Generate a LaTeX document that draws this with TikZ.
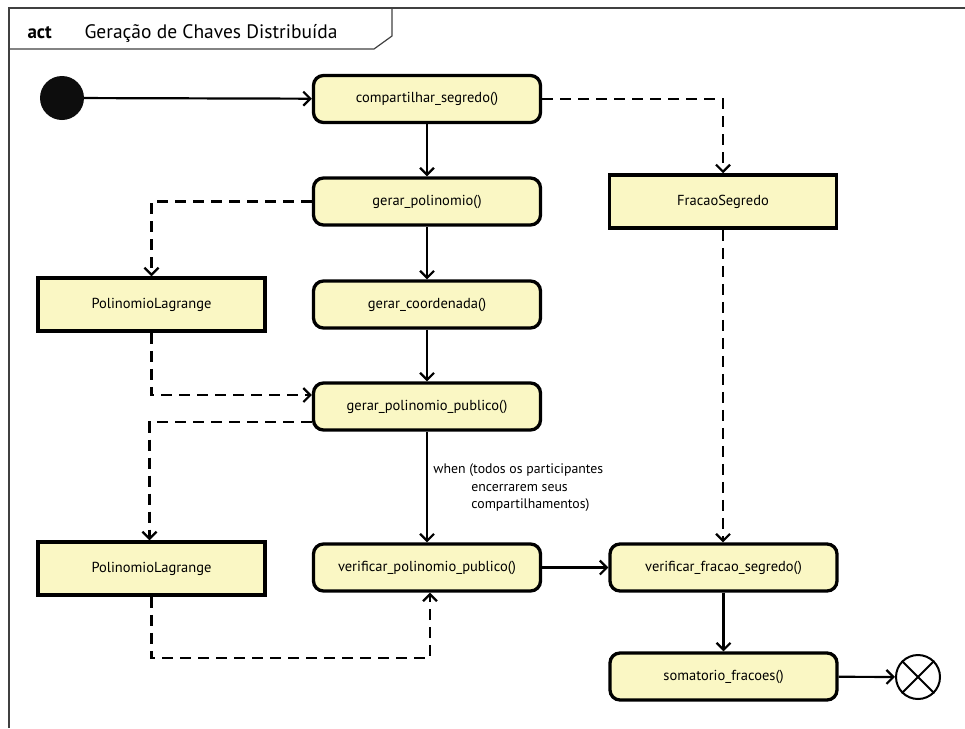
\documentclass[tikz,border=0pt]{standalone}
\usepackage{fontspec}
\setmainfont{PT Sans}
\usetikzlibrary{arrows.meta,positioning}
\definecolor{actfill}{RGB}{250,247,196}
\tikzset{
  action/.style={draw=black, line width=3.3pt, fill=actfill, rounded corners=10pt,
    minimum width=227pt, minimum height=47pt, inner sep=0pt,
    font=\fontsize{14.5}{17}\selectfont},
  objnode/.style={draw=black, line width=3.5pt, fill=actfill,
    minimum width=227pt, minimum height=53pt, inner sep=0pt,
    font=\fontsize{14.5}{17}\selectfont},
  flow/.style={draw=black, line width=2.2pt, -{Straight Barb[length=7pt,width=14pt,line width=2.2pt]}},
  objflow/.style={flow, dash pattern=on 11pt off 7pt},
  framebar/.style={draw=black!75, line width=1.6pt},
}
\begin{document}
\begin{tikzpicture}[x=1pt, y=-1pt]
  \useasboundingbox (0,0) rectangle (965,728);

  % diagram frame and name tab
  \draw[framebar] (9,728) -- (9,8) -- (965,8);
  \draw[framebar, line width=1.2pt] (9,49) -- (374,49) -- (392,36) -- (392,8);
  \node[anchor=base west, font=\fontsize{19}{22}\selectfont\bfseries] (kind) at (24,38) {act};
  \node[anchor=base west, font=\fontsize{19.5}{22}\selectfont] (title) at (81,38) {Geração de Chaves Distribuída};

  % start and end
  \node[circle, fill=black!95, minimum size=44pt, inner sep=0pt] (init) at (62,98) {};
  \node[circle, draw=black, line width=2pt, minimum size=44pt, inner sep=0pt] (fin) at (918,677) {};
  \draw[line width=2pt] (fin.north west) -- (fin.south east);
  \draw[line width=2pt] (fin.north east) -- (fin.south west);

  % actions
  \node[action] (cs)  at (427,99)    {compartilhar\_segredo()};
  \node[action] (gp)  at (427,201.5) {gerar\_polinomio()};
  \node[action] (gc)  at (427,304.5) {gerar\_coordenada()};
  \node[action] (gpp) at (427,406.5) {gerar\_polinomio\_publico()};
  \node[action] (vpp) at (427,567.5) {verificar\_polinomio\_publico()};
  \node[action] (vfs) at (723.5,567.5) {verificar\_fracao\_segredo()};
  \node[action] (sf)  at (723.5,676.5) {somatorio\_fracoes()};

  % object nodes
  \node[objnode] (fs)  at (723,201.5)   {FracaoSegredo};
  \node[objnode] (pl1) at (151.5,304.5) {PolinomioLagrange};
  \node[objnode] (pl2) at (151.5,568.5) {PolinomioLagrange};

  % control flow
  \draw[flow] (init) -- (cs);
  \draw[flow] (cs) -- (gp);
  \draw[flow] (gp) -- (gc);
  \draw[flow] (gc) -- (gpp);
  \draw[flow] (gpp) -- node[right, xshift=2pt, yshift=-1pt, align=left,
      font=\fontsize{13.8}{17.5}\selectfont] (guard)
      {when (todos os participantes\\\hspace*{38pt}encerrarem seus\\\hspace*{38pt}compartilhamentos)} (vpp);
  \draw[flow] (vpp) -- (vfs);
  \draw[flow] (vfs) -- (sf);
  \draw[flow] (sf) -- (fin);

  % object flow
  \draw[objflow] (cs.east) -| (fs.north);
  \draw[objflow] (gp.west) -| (pl1.north);
  \draw[objflow] (pl1.south) |- ([yshift=11.5pt]gpp.west);
  \draw[objflow] ([yshift=-15.5pt]gpp.west) -| ([xshift=-2pt]pl2.north);
  \coordinate (loop) at (430,658);
  \draw[objflow] (pl2.south) |- (loop) -- (loop |- vpp.south);
  \draw[objflow] (fs.south) -- (fs.south |- vfs.north);
\end{tikzpicture}
\end{document}
